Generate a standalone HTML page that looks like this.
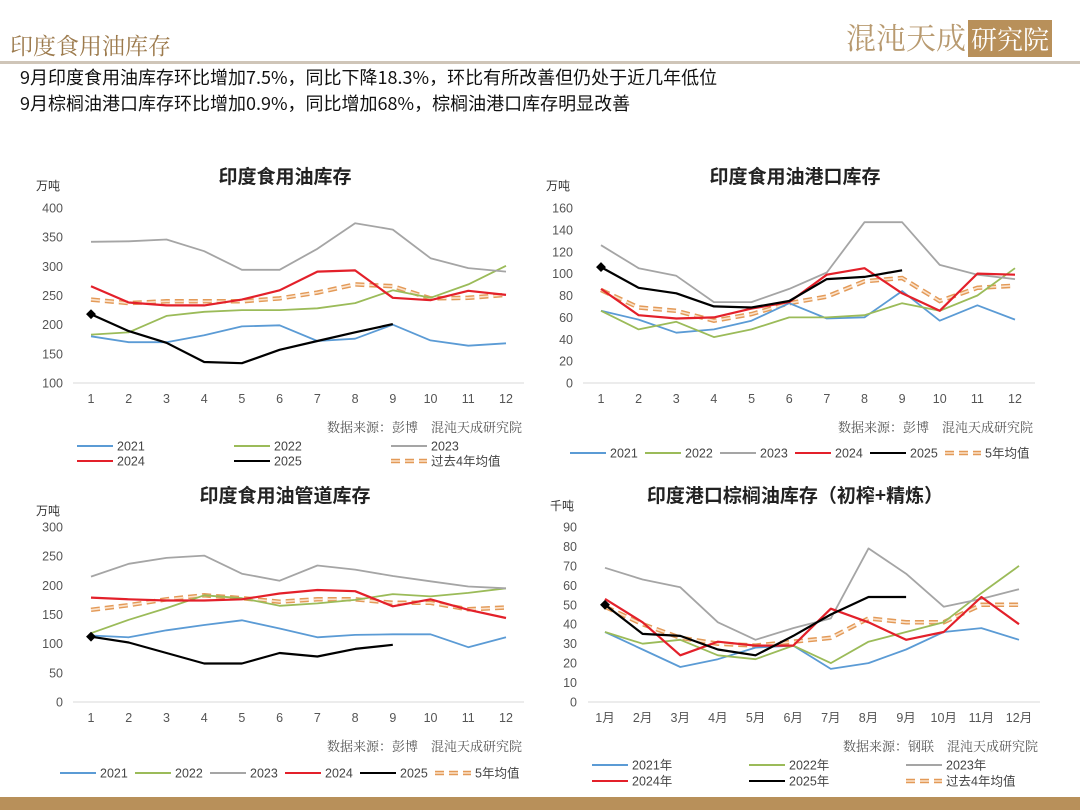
<!DOCTYPE html>
<html><head><meta charset="utf-8">
<style>
body{margin:0;width:1080px;height:810px;background:#fff;font-family:"Liberation Sans","Noto Sans CJK SC",sans-serif;position:relative;overflow:hidden}
.abs{position:absolute;white-space:nowrap}
</style></head><body>
<div class="abs" style="left:10px;top:28px;font-size:23px;color:#9c7a4c;font-family:'Noto Serif CJK SC',serif">印度食用油库存</div>
<div class="abs" style="left:846px;top:14px;font-size:30px;color:#b89a70;font-family:'Noto Serif CJK SC',serif">混沌天成<span style="background:#b8905a;color:#fff;font-size:26px;padding:0 3px;margin-left:2px">研究院</span></div>
<div class="abs" style="left:0;top:61px;width:1080px;height:3px;background:#cfc5b8"></div>
<div class="abs" style="left:20px;top:64px;font-size:18px;color:#111;font-family:'Noto Sans CJK SC',sans-serif">9月印度食用油库存环比增加7.5%，同比下降18.3%，环比有所改善但仍处于近几年低位</div>
<div class="abs" style="left:20px;top:90px;font-size:18px;color:#111;font-family:'Noto Sans CJK SC',sans-serif">9月棕榈油港口库存环比增加0.9%，同比增加68%，棕榈油港口库存明显改善</div>
<div class="abs" style="left:0;top:797px;width:1080px;height:13px;background:#b8905a"></div>
<svg id="svg" width="1080" height="810" style="position:absolute;left:0;top:0"></svg>
<script>
const months = ['1','2','3','4','5','6','7','8','9','10','11','12'];
const monthsCN = ['1月','2月','3月','4月','5月','6月','7月','8月','9月','10月','11月','12月'];
// chart 1
const c1Ticks = [100,150,200,250,300,350,400];
const c1_2021 = [180,170,170,182,197,199,172,176,200,173,164,168];
const c1_2022 = [183,187,215,222,225,225,228,237,259,246,269,301];
const c1_2023 = [342,343,346,326,294,294,330,374,363,314,297,291];
const c1_2024 = [266,238,233,233,243,259,291,293,246,242,258,251];
const c1_2025 = [218,189,169,136,134,157,172,187,201];
const c1_avg = [243,237,240,240,240,245,255,269,266,245,246,251];
// chart 2
const c2Ticks = [0,20,40,60,80,100,120,140,160];
const c2_2021 = [66,58,46,49,57,73,59,60,84,57,71,58];
const c2_2022 = [66,49,56,42,49,60,60,62,73,66,80,105];
const c2_2023 = [126,105,98,74,74,86,101,147,147,108,99,95];
const c2_2024 = [86,62,59,60,68,74,99,105,82,66,100,99];
const c2_2025 = [106,87,82,70,69,75,95,97,103];
const c2_avg = [85,69,66,57,63,73,79,93,96,75,87,89];
// chart 3
const c3Ticks = [0,50,100,150,200,250,300];
const c3_2021 = [114,111,123,132,140,126,111,115,116,116,94,111];
const c3_2022 = [118,141,161,183,178,165,169,175,185,181,187,195];
const c3_2023 = [215,237,247,251,220,208,234,227,216,207,198,195];
const c3_2024 = [179,176,174,174,176,186,192,190,164,176,158,144];
const c3_2025 = [112,102,84,66,66,84,78,91,98];
const c3_avg = [158,166,176,183,178,172,176,176,170,170,159,162];
// chart 4
const c4Ticks = [0,10,20,30,40,50,60,70,80,90];
const c4_2021 = [36,27,18,22,28,29,17,20,27,36,38,32];
const c4_2022 = [36,30,32,24,22,29,20,31,36,41,56,70];
const c4_2023 = [69,63,59,41,32,38,43,79,66,49,53,58];
const c4_2024 = [53,41,24,31,29,29,48,41,32,36,54,40];
const c4_2025 = [50,35,34,27,24,34,45,54,54];
const c4_avg = [49,40,33,30,29,31,33,43,41,41,50,50];

const NS='http://www.w3.org/2000/svg';
const svg=document.getElementById('svg');
const COL={y2021:'#5b9bd5',y2022:'#9bbb59',y2023:'#a5a5a5',y2024:'#e3202a',y2025:'#000'};
function mk(tag,attrs,parent,text){const e=document.createElementNS(NS,tag);for(const k in attrs)e.setAttribute(k,attrs[k]);if(text!==undefined)e.textContent=text;(parent||svg).appendChild(e);return e;}
function line(g,pts,color,w){return mk('polyline',{points:pts.join(' '),fill:'none',stroke:color,'stroke-width':w,'stroke-linejoin':'round'},g);}
function avgLine(g,pts){
  const a=mk('polyline',{points:pts.join(' '),fill:'none',stroke:'#e39a58','stroke-width':4.5,'stroke-dasharray':'9 5'},g);
  
  mk('polyline',{points:pts.join(' '),fill:'none',stroke:'#fbe3cc','stroke-width':1.6,'stroke-dasharray':'9 5'},g);
}
function chart(cfg){
  const g=mk('g',{});
  
  
  const ymin=cfg.ticks[0],ymax=cfg.ticks[cfg.ticks.length-1];
  const Y=v=>cfg.yb-(v-ymin)/(ymax-ymin)*(cfg.yb-cfg.yt);
  const X=i=>cfg.x1+i*(cfg.x12-cfg.x1)/11;
  const t=mk('text',{x:cfg.tx,y:cfg.ty,'text-anchor':'middle','font-size':19,'font-weight':'bold',fill:'#222','font-family':'Noto Sans CJK SC,sans-serif'},g,cfg.title);
  
  const u=mk('text',{x:cfg.ux,y:cfg.uy,'font-size':12,fill:'#333','font-family':'Noto Sans CJK SC,sans-serif'},g,cfg.unit);
  
  cfg.ticks.forEach(v=>{const e=mk('text',{x:cfg.lx,y:Y(v)+4.5,'text-anchor':'end','font-size':12.5,fill:'#555'},g,String(v));
    });
  const ax=mk('line',{x1:cfg.ax0,x2:cfg.ax1,y1:cfg.yb,y2:cfg.yb,stroke:'#d9d9d9','stroke-width':1},g);
  
  cfg.cats.forEach((c,i)=>{const e=mk('text',{x:X(i),y:cfg.yb+20,'text-anchor':'middle','font-size':12.5,fill:'#555','font-family':'Liberation Sans,Noto Sans CJK SC,sans-serif'},g,c);
    });
  const pts=a=>a.map((v,i)=>X(i).toFixed(1)+','+Y(v).toFixed(1));
  avgLine(g,pts(cfg.avg));
  [['y2021',cfg.d21],['y2022',cfg.d22],['y2023',cfg.d23],['y2024',cfg.d24],['y2025',cfg.d25]].forEach(([k,a])=>{
    const l=line(g,pts(a),COL[k],k==='y2025'||k==='y2024'?2.2:1.8);
    
  });
  const m=mk('rect',{x:X(0)-3.5,y:Y(cfg.d25[0])-3.5,width:7,height:7,fill:'#000',transform:`rotate(45 ${X(0)} ${Y(cfg.d25[0])})`},g);
  
  const s=mk('text',{x:cfg.sx,y:cfg.sy,'text-anchor':'end','font-size':13,fill:'#555','font-family':'Noto Serif CJK SC,serif'},g,cfg.src);
  
  cfg.legend.forEach(([k,lbl,x,y])=>{
    const lg=mk('g',{},g);
    
    if(k==='avg'){mk('line',{x1:x,x2:x+36,y1:y,y2:y,stroke:'#e39a58','stroke-width':4.5,'stroke-dasharray':'9 5'},lg);
      mk('line',{x1:x,x2:x+36,y1:y,y2:y,stroke:'#fbe3cc','stroke-width':1.6,'stroke-dasharray':'9 5'},lg);}
    else mk('line',{x1:x,x2:x+36,y1:y,y2:y,stroke:COL[k],'stroke-width':2},lg);
    mk('text',{x:x+40,y:y+4.5,'font-size':12.5,fill:'#444','font-family':'Liberation Sans,Noto Sans CJK SC,sans-serif'},lg,lbl);
  });
}
chart({name:'chart-india-edible-oil-stock',title:'印度食用油库存',tx:285,ty:183,unit:'万吨',ux:36,uy:190,ticks:c1Ticks,yt:208,yb:383,x1:91,x12:506,ax0:73,ax1:524,lx:63,cats:months,
  d21:c1_2021,d22:c1_2022,d23:c1_2023,d24:c1_2024,d25:c1_2025,avg:c1_avg,src:'数据来源：彭博　混沌天成研究院',sx:522,sy:432,
  legend:[['y2021','2021',77,446],['y2022','2022',234,446],['y2023','2023',391,446],['y2024','2024',77,461],['y2025','2025',234,461],['avg','过去4年均值',391,461]]});
chart({name:'chart-india-port-stock',title:'印度食用油港口库存',tx:795,ty:183,unit:'万吨',ux:546,uy:190,ticks:c2Ticks,yt:208,yb:383,x1:601,x12:1015,ax0:583,ax1:1035,lx:573,cats:months,
  d21:c2_2021,d22:c2_2022,d23:c2_2023,d24:c2_2024,d25:c2_2025,avg:c2_avg,src:'数据来源：彭博　混沌天成研究院',sx:1033,sy:432,
  legend:[['y2021','2021',570,453],['y2022','2022',645,453],['y2023','2023',720,453],['y2024','2024',795,453],['y2025','2025',870,453],['avg','5年均值',945,453]]});
chart({name:'chart-india-pipeline-stock',title:'印度食用油管道库存',tx:285,ty:502,unit:'万吨',ux:36,uy:515,ticks:c3Ticks,yt:527,yb:702,x1:91,x12:506,ax0:73,ax1:524,lx:63,cats:months,
  d21:c3_2021,d22:c3_2022,d23:c3_2023,d24:c3_2024,d25:c3_2025,avg:c3_avg,src:'数据来源：彭博　混沌天成研究院',sx:522,sy:751,
  legend:[['y2021','2021',60,773],['y2022','2022',135,773],['y2023','2023',210,773],['y2024','2024',285,773],['y2025','2025',360,773],['avg','5年均值',435,773]]});
chart({name:'chart-india-palm-port-stock',title:'印度港口棕榈油库存（初榨+精炼）',tx:795,ty:502,unit:'千吨',ux:550,uy:510,ticks:c4Ticks,yt:527,yb:702,x1:605,x12:1019,ax0:588,ax1:1040,lx:577,cats:monthsCN,
  d21:c4_2021,d22:c4_2022,d23:c4_2023,d24:c4_2024,d25:c4_2025,avg:c4_avg,src:'数据来源：钢联　混沌天成研究院',sx:1038,sy:751,
  legend:[['y2021','2021年',592,765],['y2022','2022年',749,765],['y2023','2023年',906,765],['y2024','2024年',592,781],['y2025','2025年',749,781],['avg','过去4年均值',906,781]]});
</script>
</body></html>
